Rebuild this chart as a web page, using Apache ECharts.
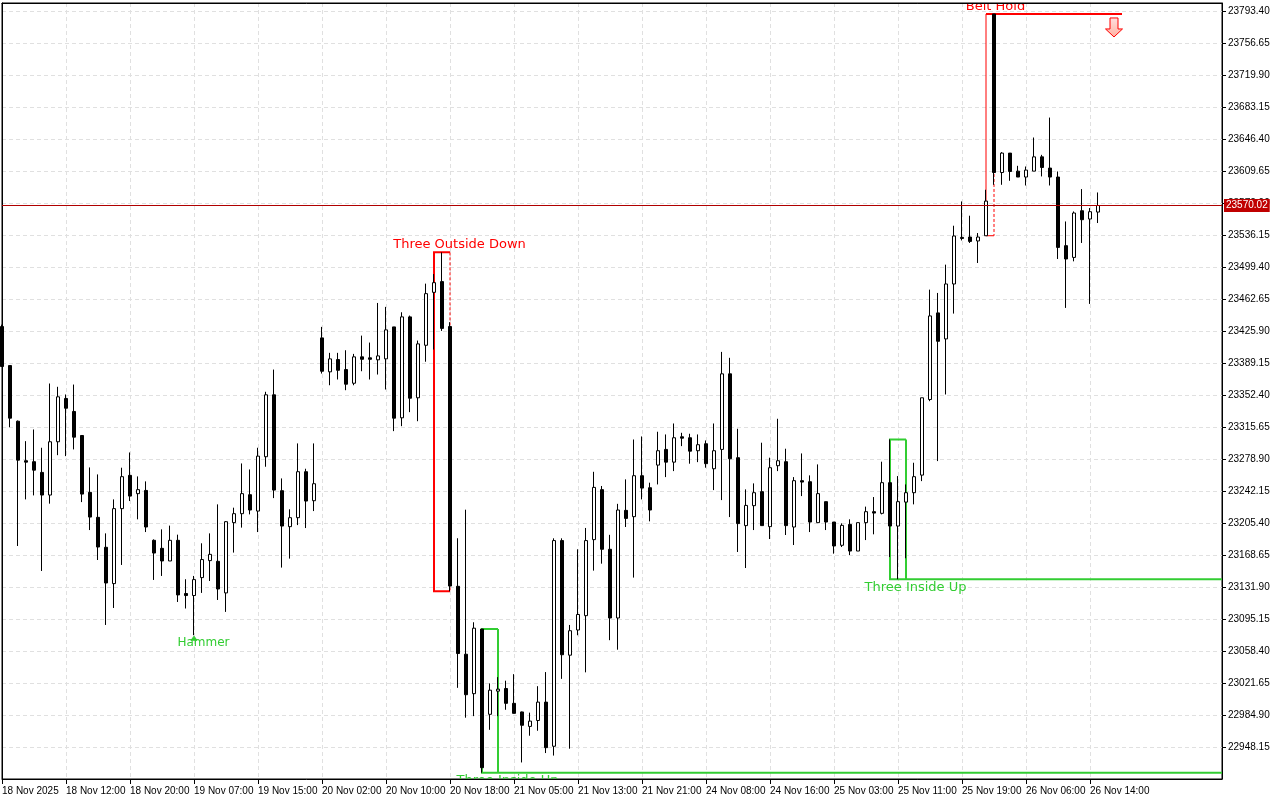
<!DOCTYPE html>
<html><head><meta charset="utf-8">
<script src="https://cdn.jsdelivr.net/npm/echarts@6/dist/echarts.min.js"></script>
<style>html,body{margin:0;padding:0;background:#fff}#chart{width:1280px;height:800px}</style>
</head><body><div id="chart"></div>
<script>
// ---- data ----
const timeLabels = ['18 Nov 2025','18 Nov 12:00','18 Nov 20:00','19 Nov 07:00','19 Nov 15:00','20 Nov 02:00',
  '20 Nov 10:00','20 Nov 18:00','21 Nov 05:00','21 Nov 13:00','21 Nov 21:00','24 Nov 08:00','24 Nov 16:00',
  '25 Nov 03:00','25 Nov 11:00','25 Nov 19:00','26 Nov 06:00','26 Nov 14:00'];
const barsPerLabel = 8;

const opens = [23431.0,23386.2,23322.3,23276.9,23275.8,23263.5,23237.5,23298.7,23348.4,23333.5,
23305.9,23240.6,23211.9,23177.5,23135.8,23221.9,23260.1,23239.1,23242.8,23185.5,
23176.3,23161.8,23185.5,23124.4,23122.1,23142.7,23162.2,23161.4,23125.1,23205.8,
23216.1,23237.9,23219.1,23281.5,23352.6,23242.5,23201.2,23211.5,23264.3,23231.0,
23418.0,23379.0,23393.1,23381.6,23365.9,23396.2,23395.1,23392.8,23393.9,23430.6,
23326.2,23442.1,23349.2,23409.5,23470.3,23482.6,23431.0,23132.7,23054.7,23009.4,
23083.6,22985.7,23012.3,23015.3,22998.3,22988.4,22971.8,22978.6,22999.7,22949.0,
23185.2,23053.6,23082.5,23099.0,23186.3,23243.7,23175.2,23096.3,23219.9,23212.7,
23259.7,23245.9,23271.9,23289.9,23275.3,23304.4,23303.3,23288.4,23296.4,23267.7,
23289.9,23376.7,23280.4,23202.4,23225.3,23241.4,23201.2,23271.2,23275.8,23200.8,
23254.0,23252.8,23205.8,23229.9,23206.5,23179.8,23203.8,23173.2,23205.8,23218.4,
23216.5,23251.7,23201.9,23229.4,23240.2,23260.4,23347.2,23446.7,23416.8,23479.9,
23533.4,23533.8,23529.3,23535.3,23790.0,23607.9,23630.2,23609.5,23602.7,23609.5,
23625.9,23613.0,23602.7,23523.9,23510.4,23564.0,23554.5,23562.5];
const highs = [23433.2,23386.2,23323.1,23299.4,23312.8,23291.8,23365.6,23361.8,23353.0,23364.4,
23305.9,23269.2,23261.2,23193.5,23232.5,23268.9,23286.4,23258.9,23253.2,23186.6,
23198.1,23202.4,23192.0,23140.8,23144.6,23182.1,23193.5,23226.8,23207.6,23223.0,
23273.8,23266.9,23291.8,23356.1,23381.6,23256.6,23221.1,23296.8,23267.7,23296.8,
23430.6,23400.8,23400.8,23403.8,23399.6,23420.6,23412.6,23458.1,23453.6,23430.6,
23447.4,23443.6,23414.9,23480.3,23491.3,23516.2,23436.0,23187.9,23220.7,23091.4,
23083.6,23021.2,23028.4,23024.3,23031.8,22988.8,22987.6,23018.0,23034.2,23187.8,
23187.8,23088.3,23175.2,23199.7,23264.2,23247.9,23191.8,23227.4,23255.5,23301.3,
23304.8,23251.7,23310.2,23307.1,23319.7,23309.0,23307.9,23307.1,23300.2,23319.7,
23401.9,23395.1,23313.6,23244.0,23250.9,23297.6,23280.4,23325.1,23290.7,23258.1,
23285.3,23260.1,23272.7,23229.9,23206.5,23205.0,23209.6,23205.8,23224.2,23235.2,
23275.8,23301.4,23259.3,23249.7,23274.6,23349.2,23473.4,23469.6,23502.1,23546.8,
23574.7,23558.3,23538.4,23588.1,23790.0,23631.3,23630.2,23615.6,23614.8,23648.1,
23628.2,23671.0,23609.1,23551.7,23563.2,23588.9,23567.1,23585.0];
const lows = [23385.1,23315.4,23179.0,23232.5,23237.1,23150.3,23227.6,23283.3,23282.2,23289.9,
23229.4,23197.3,23162.9,23088.3,23107.8,23157.2,23230.6,23209.6,23195.0,23140.0,
23144.6,23161.8,23114.7,23107.2,23076.5,23125.1,23138.8,23117.0,23103.3,23171.4,
23200.1,23215.3,23195.0,23270.0,23234.0,23154.2,23164.5,23203.0,23199.6,23219.1,
23377.0,23363.6,23370.2,23357.9,23363.6,23379.7,23370.2,23375.9,23358.7,23310.9,
23316.6,23332.7,23322.3,23390.6,23404.6,23426.0,23127.0,23016.1,22981.8,22983.6,
22918.6,22967.9,22983.6,22990.9,22986.8,22930.4,22961.1,22966.8,22941.2,22938.3,
23026.4,22946.2,23076.5,23033.9,23150.7,23158.7,23070.8,23059.9,23200.8,23142.7,
23232.5,23207.3,23249.7,23258.1,23265.0,23293.7,23273.5,23275.3,23268.9,23243.2,
23231.7,23212.2,23172.1,23153.7,23197.3,23202.4,23187.0,23265.0,23191.6,23180.1,
23236.3,23195.0,23205.8,23197.3,23170.2,23177.8,23168.6,23173.2,23185.8,23192.4,
23215.3,23166.3,23140.8,23164.9,23226.8,23253.5,23345.3,23276.5,23353.0,23445.9,
23529.9,23527.0,23504.0,23535.3,23593.8,23593.8,23598.4,23602.7,23593.0,23609.5,
23603.4,23593.0,23508.6,23452.4,23505.9,23527.0,23457.0,23549.9];
const closes = [23385.1,23325.8,23277.6,23275.3,23266.1,23237.5,23298.7,23350.3,23337.2,23304.0,
23238.6,23212.2,23177.8,23136.5,23221.9,23258.6,23236.3,23243.7,23200.8,23170.9,
23161.8,23185.5,23122.8,23122.1,23140.4,23163.4,23169.4,23129.6,23206.9,23216.1,
23239.1,23220.3,23282.2,23352.6,23243.2,23201.9,23211.5,23264.3,23230.6,23250.5,
23379.7,23393.9,23380.8,23364.8,23396.2,23393.4,23393.4,23397.3,23427.2,23325.8,
23442.1,23348.7,23411.1,23468.8,23481.4,23428.9,23133.0,23055.5,23008.2,23084.6,
22924.4,23013.4,23014.6,22998.3,22986.8,22973.1,22977.9,22999.7,22947.4,23185.2,
23054.1,23081.7,23100.3,23185.2,23246.3,23175.2,23096.3,23220.3,23210.7,23259.7,
23245.5,23220.3,23288.4,23275.3,23303.3,23302.8,23287.9,23295.3,23273.5,23288.4,
23376.7,23279.2,23204.7,23225.6,23240.2,23202.4,23268.9,23276.9,23202.4,23254.0,
23252.4,23206.5,23239.1,23206.5,23179.0,23202.7,23173.2,23205.8,23218.4,23216.8,
23251.7,23201.9,23229.9,23240.2,23258.6,23349.2,23443.2,23414.1,23479.9,23535.0,
23532.2,23528.8,23533.8,23575.1,23607.9,23630.2,23609.1,23602.7,23610.7,23625.9,
23613.7,23602.7,23521.9,23508.6,23561.4,23553.7,23562.9,23570.02];

const priceAxisMin = 22911.40;
const priceAxisMax = 23802.58;
const priceStep = 36.75;
const lastPrice = 23570.02;

// candlestick patterns
const patternName    = ['Three Outside Down', 'Three Inside Up', 'Three Inside Up', 'Belt Hold'];
const patternFirst   = [54, 60, 111, 123];
const patternLast    = [56, 62, 113, 124];
const patternHigh    = [23516.2, 23083.6, 23301.4, 23790.0];
const patternLow     = [23127.0, 22918.6, 23140.8, 23535.3];
const patternLabelAt = [57, 63, 114, 124];
const patternBullish = [false, true, true, false];
const patternLevelTo = [null, 'edge', 'edge', 140];

const hammerIndex = 24;
const hammerLabelAt = 25;
const signalArrowIndex = 139;
const signalArrowPrice = 23790.0;

// ---- chart ----
const RED = '#ff0000', GREEN = '#32cd32';
const candleData = opens.map((o, i) => [i, o, closes[i], lows[i], highs[i]]);
const labelTicks = timeLabels.map((_, k) => k * barsPerLabel);

function renderPattern(params, api) {
  const k = api.value(2);
  const cs = params.coordSys;
  const rightEdge = cs.x + cs.width;
  const p1 = api.coord([patternFirst[k], patternHigh[k]]);
  const p2 = api.coord([patternLast[k], patternLow[k]]);
  const x1 = p1[0], yTop = p1[1], x2 = p2[0], yBot = p2[1];
  const bull = patternBullish[k];
  const col = bull ? GREEN : RED;
  const boxWidth = (patternLast[k] - patternFirst[k] >= 2) ? 2 : 1;
  const solid = { stroke: col, lineWidth: 2, fill: null };
  const box = { stroke: col, lineWidth: boxWidth, fill: null };
  const children = [];
  children.push({ type: 'polyline', shape: { points: [[x2, yTop], [x1, yTop], [x1, yBot], [x2, yBot]] }, style: box });
  children.push({ type: 'line', shape: { x1: x2, y1: yTop, x2: x2, y2: yBot },
    style: bull ? box : { stroke: col, lineWidth: 1, lineDash: [3, 2] } });
  const lv = patternLevelTo[k];
  if (lv === 'edge') {
    children.push({ type: 'line', shape: { x1: x2, y1: yBot, x2: rightEdge, y2: yBot }, style: solid });
  } else if (typeof lv === 'number') {
    const xe = api.coord([lv, patternHigh[k]])[0];
    children.push({ type: 'line', shape: { x1: x1, y1: yTop, x2: xe, y2: yTop }, style: solid });
  }
  const lx = api.coord([patternLabelAt[k], patternHigh[k]])[0] + 1.5;
  children.push({ type: 'text', x: lx, y: bull ? yBot + 8 : yTop - 7.5,
    style: { text: patternName[k], fill: col, font: '13px "DejaVu Sans"',
      align: 'center', textAlign: 'center', verticalAlign: 'middle', textVerticalAlign: 'middle' } });
  return { type: 'group', children };
}

function renderMarks(params, api) {
  const kind = api.value(2);
  const p = api.coord([api.value(0), api.value(1)]);
  if (kind === 0) { // hammer
    const lx = api.coord([hammerLabelAt, api.value(1)])[0] + 1.5;
    return { type: 'group', children: [
      { type: 'text', x: lx, y: p[1] + 7.5, style: { text: 'Hammer', fill: GREEN, font: '12px "DejaVu Sans"',
        align: 'center', textAlign: 'center', verticalAlign: 'middle', textVerticalAlign: 'middle' } },
      { type: 'polygon', shape: { points: [[p[0], p[1] + 1], [p[0] - 3, p[1] + 5], [p[0] + 3, p[1] + 5]] },
        style: { fill: GREEN, stroke: GREEN, lineWidth: 1 } }
    ]};
  }
  const cx = p[0], t = p[1] + 4;
  return { type: 'polygon', shape: { points: [[cx - 4, t], [cx + 4, t], [cx + 4, t + 11], [cx + 8.5, t + 11],
      [cx, t + 19], [cx - 8.5, t + 11], [cx - 4, t + 11]] },
    style: { fill: new echarts.graphic.LinearGradient(0, 0, 0, 1, [{ offset: 0, color: '#ffe0e0' }, { offset: 1, color: '#ffb0a0' }]),
      stroke: RED, lineWidth: 1 } };
}

const frameAxis = {
  show: true, axisLine: { show: true, onZero: false, lineStyle: { color: '#000', width: 1 } },
  axisTick: { show: false }, axisLabel: { show: false }, splitLine: { show: false }, z: 10
};

const chart = echarts.init(document.getElementById('chart'), null, { renderer: 'canvas' });
chart.setOption({
  animation: false,
  backgroundColor: '#fff',
  grid: { left: 2, right: 58, top: 3, bottom: 21, show: true, borderColor: '#000', borderWidth: 1,
    backgroundColor: '#fff', containLabel: false, outerBoundsMode: 'none' },
  xAxis: [{
    type: 'value', min: 0, max: 152.5, interval: 4,
    axisLine: { show: true, onZero: false, lineStyle: { color: '#000', width: 1 } },
    axisTick: { show: true, length: 5, customValues: labelTicks, lineStyle: { color: '#000' } },
    axisLabel: { customValues: labelTicks,
      formatter: v => (v % barsPerLabel === 0 && timeLabels[v / barsPerLabel]) ? timeLabels[v / barsPerLabel] : '',
      align: 'left', margin: 7, fontSize: 10, fontFamily: '"Liberation Sans", Arial', color: '#000' },
    splitLine: { show: true, lineStyle: { color: '#e0e0e0', width: 1, type: [4, 3] } }
  }, Object.assign({ type: 'value', position: 'top', min: 0, max: 152.5 }, frameAxis)],
  yAxis: [{
    type: 'value', position: 'right', min: priceAxisMin, max: priceAxisMax, interval: priceStep,
    axisLine: { show: true, onZero: false, lineStyle: { color: '#000', width: 1 } },
    axisTick: { show: true, length: 4, lineStyle: { color: '#000' } },
    axisLabel: { showMinLabel: false, showMaxLabel: false, formatter: v => v.toFixed(2),
      margin: 6, fontSize: 10, fontFamily: '"Liberation Sans", Arial', color: '#000' },
    splitLine: { show: true, lineStyle: { color: '#e0e0e0', width: 1, type: [4, 3] } }
  }, Object.assign({ type: 'value', position: 'left', min: priceAxisMin, max: priceAxisMax }, frameAxis)],
  series: [
    {
      type: 'custom', name: 'patterns', z: 1, clip: true, silent: true,
      data: patternName.map((_, k) => [patternFirst[k], patternHigh[k], k]),
      encode: { x: 0, y: 1 },
      renderItem: renderPattern
    },
    {
      type: 'candlestick', name: 'price', z: 2, barWidth: 4, large: false, clip: true,
      data: candleData,
      encode: { x: 0, y: [1, 2, 3, 4] },
      itemStyle: { color: '#fff', color0: '#000', borderColor: '#000', borderColor0: '#000',
        borderColorDoji: '#000', borderWidth: 1 },
      markLine: {
        symbol: 'none', silent: true, animation: false, z: 20,
        lineStyle: { color: '#b00000', width: 1, type: 'solid' },
        label: { show: true, position: 'end', formatter: () => lastPrice.toFixed(2),
          backgroundColor: '#c00000', color: '#fff', padding: [2, 2, 1, 2], distance: 2,
          fontSize: 10, fontFamily: '"Liberation Sans", Arial' },
        emphasis: { disabled: true },
        data: [{ yAxis: lastPrice }]
      }
    },
    {
      type: 'custom', name: 'marks', z: 3, clip: false, silent: true,
      data: [[hammerIndex, lows[hammerIndex], 0], [signalArrowIndex, signalArrowPrice, 1]],
      encode: { x: 0, y: 1 },
      renderItem: renderMarks
    }
  ]
});
</script></body></html>
